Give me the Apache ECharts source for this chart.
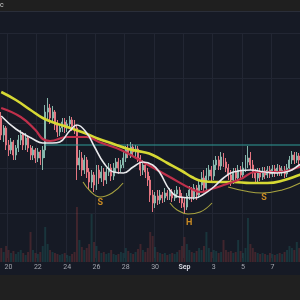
<!DOCTYPE html>
<html><head><meta charset="utf-8">
<script src="https://cdn.jsdelivr.net/npm/echarts@6/dist/echarts.min.js"></script>
<style>html,body{margin:0;padding:0;background:#161a25;overflow:hidden;width:300px;height:300px}
#c{width:320px;height:300px}</style></head>
<body><div id="c"></div>
<script>
// ---- tick labels on the time axis (4h candles, first candle Aug 19 12:00) ----
const tickDates  = ['08-20 00','08-22 00','08-24 00','08-26 00','08-28 00','08-30 00','09-01 00','09-03 00','09-05 00','09-07 00','09-09 00'];
const tickLabels = ['20','22','24','26','28','30','Sep','3','5','7','9'];

// ---- candles (4h) ----
const opens  = [140,123,130,113,108,116, 103,110,118,123,113,120, 110,103,108,100,106,100, 108,146,150,140,146,133,
                126,130,136,130,134,138, 132,130,93,100,88,98, 86,76,83,73,88,80, 86,78,86,90,82,90,
                96,90,93,100,108,104, 111,106,109,100,88,93, 86,78,63,55,62,58, 63,60,65,62,66,60,
                64,68,61,55,51,62, 68,61,70,63,73,80, 70,82,88,82,93,98, 92,101,96,90,83,78,
                86,80,88,83,90,96, 100,93,85,80,86,81, 87,83,88,84,89,85, 90,86,88,84,90,98, 103,98,102];
const closes = [123,130,113,108,116,103, 110,118,123,113,120,110, 103,108,100,106,100,108, 146,150,140,146,133,126,
                130,136,130,134,138,132, 130,93,100,88,98,86, 76,83,73,88,80,86, 78,86,90,82,90,96,
                90,93,100,108,104,111, 106,109,100,88,93,86, 78,63,55,62,58,63, 60,65,62,66,60,64,
                68,61,55,51,62,68, 61,70,63,73,80,70, 82,88,82,93,98,92, 101,96,90,83,78,86,
                80,88,83,90,96,100, 93,85,80,86,81,87, 83,88,84,89,85,90, 86,88,84,90,98,103, 98,102,98];
const lows   = [118,116,108,102,104,98, 98,106,113,108,108,106, 98,98,95,96,93,88, 100,138,134,136,128,121,
                122,126,125,126,130,127, 124,78,88,82,84,80, 68,70,66,68,74,76, 72,74,82,77,78,86,
                84,86,90,96,100,100, 102,101,96,82,83,80, 72,56,46,50,53,54, 55,56,58,58,56,57,
                60,55,50,45,48,58, 56,58,58,60,68,66, 66,78,76,78,88,88, 88,91,86,78,72,74,
                75,76,78,80,86,90, 88,80,76,76,77,78, 79,80,80,81,81,82, 82,82,80,81,87,94, 94,95,93];
const highs  = [146,133,132,118,120,118, 113,123,128,126,125,122, 113,112,110,110,108,112, 153,160,154,152,148,138,
                134,140,140,138,142,141, 138,133,108,106,103,101, 90,88,86,93,93,92, 90,90,95,94,95,100,
                100,98,106,112,114,116, 114,113,112,103,98,96, 90,82,68,66,68,68, 66,70,68,70,69,68,
                72,71,65,60,65,72, 71,74,73,78,86,88, 90,93,92,98,102,102, 106,105,100,94,88,90,
                90,93,92,96,103,112, 106,98,89,90,90,91, 91,92,92,93,93,94, 93,92,92,94,102,107, 106,106,105];
const volumes = [14,10,16,12,9,11, 8,10,12,9,7,10, 30,12,9,8,10,16, 35,18,12,10,9,8,
                 7,8,9,7,6,8, 10,55,22,15,12,14, 18,48,20,16,11,9, 10,8,9,12,8,7,
                 8,10,9,14,11,9, 8,10,13,18,12,10, 14,30,26,15,10,9, 8,9,7,8,9,8,
                 10,12,16,25,18,12, 10,9,11,14,12,16, 30,14,10,12,11,9, 10,22,12,10,11,9,
                 10,22,11,9,14,44, 18,14,10,9,8,9, 8,7,9,8,7,8, 9,8,10,12,16,14, 12,20,14];

// ---- moving averages: [candle index, value] ----
const maYellow = [[0,166],[6,158],[12,148],[17,140],[22,135],[27,131],[33,126],[40,119],[46,114],[52,109],[58,106],[62,103],
                  [68,95],[74,87],[78,81],[82,77],[88,76],[95,76],[102,75],[109,75],[116,78],[122,83],[126,86]];
const maRed    = [[0,150],[8,141],[14,128],[17,119],[20,117],[27,121],[35,121],[40,116],[49,108],[58,96],[69,81],[78,69],
                  [82,66],[86,69],[90,72],[98,79],[104,86],[114,86],[122,91],[126,94]];
const maWhite  = [[0,142],[6,129],[13,119],[17,115],[21,115],[24,116],[28,127],[31,133],[35,125],[38,112],[42,95],[46,86],
                  [50,85],[54,91],[58,96],[62,93],[65,85],[69,68],[73,61],[79,60],[83,64],[87,71],[91,80],[95,86],
                  [102,88],[108,86],[113,85],[118,87],[122,93],[126,98]];
const resistance = [[18,113],[130.5,113]];

// ---- head & shoulders annotation ----
const arcLeftS  = [[33.5,76],[36.4,67],[40.5,61],[45.4,65],[49.9,75]];
const arcHead   = [[69.1,55],[72,48],[76.5,44],[81.4,46],[86.3,55]];
const arcRightS = [[92.9,71],[99.8,67],[106.8,65],[115,68],[122.4,75]];
const patternLabels = [[40.5,55,'S'],[76.9,35,'H'],[107.6,60,'S']];

function pad(n){return (n<10?'0':'')+n;}
const categories = [];
const startMs = Date.UTC(2024,7,19,12);
for (let k=0;k<131;k++){const d=new Date(startMs+k*4*3600e3);categories.push(pad(d.getUTCMonth()+1)+'-'+pad(d.getUTCDate())+' '+pad(d.getUTCHours()));}
const candles = opens.map((o,i)=>[o,closes[i],lows[i],highs[i]]);
const UP='#86b6ab', DOWN='#e47580';
const volData = volumes.map((v,i)=>({value:v,itemStyle:{color: closes[i]>=opens[i]?'rgba(38,166,154,0.2)':'rgba(239,83,80,0.2)'}}));
const isTick = (i,v)=>tickDates.indexOf(v)>=0;

const chart = echarts.init(document.getElementById('c'));
const lineS = (data,color,width)=>({type:'line',xAxisIndex:1,yAxisIndex:0,data,smooth:0.45,showSymbol:false,
  lineStyle:{color,width},z:5,silent:true});
chart.setOption({
  animation:false,
  backgroundColor:'#161a25',
  grid:[{left:0,right:0,top:33,height:225},{left:0,right:0,top:200,height:62}],
  xAxis:[
    {type:'category',gridIndex:0,data:categories,boundaryGap:true,
     axisLine:{show:false},axisTick:{show:false},
     axisLabel:{interval:isTick,margin:6,fontSize:7,color:'#a3a6af',fontFamily:'Roboto',
       formatter:v=>{const j=tickDates.indexOf(v);if(j<0)return '';return tickLabels[j]==='Sep'?'{b|Sep}':tickLabels[j];},
       rich:{b:{fontSize:7,fontWeight:'bold',color:'#d1d4dc',fontFamily:'Roboto'}}},
     splitLine:{show:true,interval:isTick,lineStyle:{color:'#222633',width:1}}},
    {type:'value',gridIndex:0,min:-0.5,max:130.5,show:false},
    {type:'category',gridIndex:1,data:categories,show:false}
  ],
  yAxis:[
    {type:'value',gridIndex:0,min:0,max:225,interval:45,axisLine:{show:false},axisTick:{show:false},axisLabel:{show:false},
     splitLine:{show:true,showMinLine:false,lineStyle:{color:'#222633',width:1}}},
    {type:'value',gridIndex:1,min:0,max:62,show:false}
  ],
  series:[
    {type:'bar',xAxisIndex:2,yAxisIndex:1,data:volData,barWidth:'80%',z:1,silent:true},
    {type:'candlestick',xAxisIndex:0,yAxisIndex:0,data:candles,barWidth:'60%',z:3,clip:false,
     itemStyle:{color:UP,color0:DOWN,borderColor:UP,borderColor0:DOWN,borderWidth:1}},
    {type:'line',xAxisIndex:1,yAxisIndex:0,data:resistance,showSymbol:false,lineStyle:{color:'#2f9c98',width:1},z:4},
    lineS(maYellow,'#d6d834',2.6),
    lineS(maRed,'#bf304b',2.2),
    lineS(maWhite,'#e9e9ec',1.6),
    lineS(arcLeftS,'#a8a340',1.1),
    lineS(arcHead,'#a8a340',1.1),
    lineS(arcRightS,'#a8a340',1.1),
    {type:'scatter',xAxisIndex:1,yAxisIndex:0,data:patternLabels,symbolSize:1,itemStyle:{color:'rgba(0,0,0,0)'},z:6,
     label:{show:true,position:'inside',formatter:p=>p.value[2],color:'#f5a623',fontSize:9,fontWeight:'bold',fontFamily:'Roboto'}}
  ],
  graphic:[
    {type:'rect',shape:{x:0,y:0,width:320,height:11},style:{fill:'#1f1f1f'},z:100},
    {type:'rect',shape:{x:0,y:11,width:320,height:1},style:{fill:'#2a2e39'},z:100},
    {type:'text',x:0,y:2,style:{text:'c',fill:'#cfcfcf',fontSize:7,fontFamily:'Roboto'},z:101},
    {type:'rect',shape:{x:0,y:275,width:320,height:25},style:{fill:'#202020'},z:100}
  ]
});
</script></body></html>
